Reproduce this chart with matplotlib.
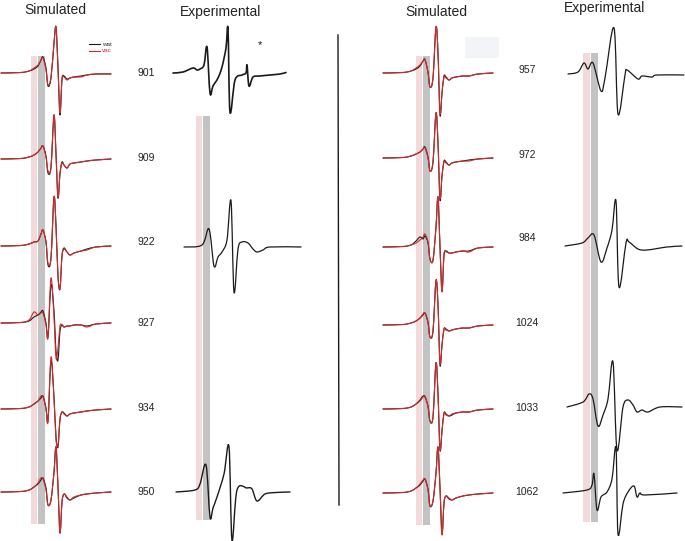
import numpy as np
import matplotlib
matplotlib.use("Agg")
import matplotlib.pyplot as plt
from matplotlib.path import Path
from matplotlib.patches import PathPatch

plt.rcParams['font.family'] = ['Liberation Sans', 'DejaVu Sans']

# ---------------- data ----------------
# common field grid (relative units) for simulated spectra
SIM_X = [0, 20, 28, 33, 37, 40, 42, 45, 47, 50, 53, 55, 57, 59, 61, 63, 66, 69, 73, 80, 86, 95, 110]

# left column simulated spectra (vac = red, wat = black)
SIM_LEFT_LABELS = ["901", "909", "922", "927", "934", "950"]
VAC_901 = [0, 0.5, 2, 5, 8, 13, 15, 3, -12, -4, 30, 46, 5, -40, -6, -4, -7, -5, -4, -4, -2, -1, -1]
WAT_901 = [0, 0.5, 2, 4, 7, 13, 16, 5, -13, -5, 30, 46, 5, -42, -6, -3, -6, -5, -4, -3, -2, -1, -1]
VAC_909 = [0, 0.5, 2, 4, 7, 11, 13, 2, -12, -8, 44, 5, -38, -15, -4, -6, -9, -5, -4, -3, -2, -1, 0]
WAT_909 = [0, 0.5, 2, 4, 7, 11, 13, 3, -14, -8, 44, 5, -39, -14, -3, -6, -9, -5, -4, -3, -2, -1, 0]
VAC_922 = [0, 0.5, 2, 4, 5, 12, 16, 4, -17, -12, 49, 20, -30, -42, -10, -3, -6, -9, -7, -5, -4, -1, 0]
WAT_922 = [0, 0.5, 2, 4, 5, 12, 16, 4, -19, -12, 49, 20, -30, -43, -10, -2, -6, -9, -7, -5, -3, -1, 0]
VAC_927 = [0, 0.5, 3, 11, 8, 10, 10, -2, -14, 45, 5, -35, -25, -3, -2, -4, -3, -3, -2, -2, -4, -1, 0]
WAT_927 = [0, 0.5, 2, 6, 8, 11, 12, 0, -14, 38, 12, -28, -37, -8, -2, -4, -3, -3, -2, -2, -3, -1, 0]
VAC_934 = [0, 0.5, 2, 5, 8, 13, 12, 0, -12, 52, 10, -30, -36, -10, -3, -5, -7, -5, -4, -3, -2, -1, 0]
WAT_934 = [0, 0.5, 2, 5, 8, 11, 13, 1, -12, 48, 12, -28, -38, -10, -3, -4, -7, -5, -4, -3, -2, -1, 0]
VAC_950 = [0, 0.5, 2, 5, 9, 14, 13, 2, -13, -8, 20, 45, 5, -41, -10, -2, -5, -8, -5, -3, -2, -1, 0]
WAT_950 = [0, 0.5, 2, 5, 8, 12, 14, 4, -13, -8, 20, 45, 5, -41, -10, -2, -6, -8, -6, -3, -2, -1, 0]

# right column simulated spectra
SIM_RIGHT_LABELS = ["957", "972", "984", "1024", "1033", "1062"]
VAC_957 = [0, 0.5, 2, 5, 8, 12, 14, 0, -14, -5, 46, 20, -40, -20, -4, -5, -7, -5, -4, -3, -3, -1, 0]
WAT_957 = [0, 0.5, 2, 4, 7, 12, 13, 1, -14, -5, 46, 20, -42, -20, -3, -4, -7, -5, -4, -3, -3, -1, 0]
VAC_972 = [0, 0.5, 2, 4, 6, 9, 10, 0, -13, -4, 45, 15, -40, -18, -4, -5, -7, -5, -4, -3, -3, -1, 0]
WAT_972 = [0, 0.5, 2, 4, 6, 9, 11, 1, -13, -4, 45, 15, -42, -18, -3, -4, -7, -5, -4, -3, -2, -1, 0]
VAC_984 = [0, 0.5, 2, 4, 7, 10, 13, 5, -12, -13, 20, 50, 0, -45, -8, -5, -6, -6, -5, -4, -5, -1, 0]
WAT_984 = [0, 0.5, 2, 6, 10, 8, 11, 4, -12, -13, 20, 50, 0, -44, -8, -4, -6, -6, -5, -4, -4, -1, 0]
VAC_1024 = [0, 0.5, 2, 4, 7, 11, 12, 2, -12, -6, 45, 20, -38, -20, -4, -5, -6, -5, -4, -3, -3, -1, 0]
WAT_1024 = [0, 0.5, 2, 4, 7, 10, 12, 3, -12, -6, 44, 20, -40, -20, -4, -4, -6, -5, -4, -3, -3, -1, 0]
VAC_1033 = [0, 0.5, 2, 5, 8, 12, 13, 2, -12, -8, 46, 15, -40, -22, -4, -6, -7, -5, -4, -3, -3, -1, 0]
WAT_1033 = [0, 0.5, 2, 5, 9, 13, 12, 3, -12, -8, 46, 15, -41, -22, -4, -5, -7, -6, -4, -3, -3, -1, 0]
VAC_1062 = [0, 0.5, 2, 5, 9, 13, 14, 3, -13, -8, 20, 46, 5, -42, -10, -3, -5, -7, -5, -3, -2, -1, 0]
WAT_1062 = [0, 0.5, 2, 5, 8, 12, 14, 4, -13, -8, 20, 46, 5, -41, -10, -3, -6, -7, -5, -3, -2, -1, 0]

# experimental spectra (field, amplitude)
EXP_901_X = [0, 10, 20, 24, 27, 31, 34, 37, 40, 45, 49, 53, 55, 57, 62, 69, 73, 74, 76, 80, 87, 97, 107, 113]
EXP_901_Y = [0, 1, 5, 3, 4, 8, 26, -20, -13, -5, 6, 25, 44, -39, -7, -2, 0, 8, -13, -4, -3, -2, -1, 0.5]
EXP_922_X = [0, 18, 25, 30, 34, 38, 43, 47, 50, 54, 58, 64, 69, 73, 79, 86, 117]
EXP_922_Y = [0, 2, 18, -19, -10, -5, 7, 46, -45, -2, 5, 4, -2, -5, -3, 0, 0]
EXP_950_X = [0, 19, 24, 30, 34, 37, 41, 48, 53, 56, 61, 71, 76, 81, 89, 100, 114]
EXP_950_Y = [0, 2, 8, 27, -25, -16, -5, 18, 45, -48, 2, 4, 3, -9, -2, -0.5, 0]
EXP_957_X = [0, 10, 16, 20, 25, 33, 37, 46, 50, 57, 59, 70, 74, 84, 89, 116]
EXP_957_Y = [0, 2, 11, 5, 11, -17, -4, 46, -40, -1, 4, -5, -2, -3, -1, -1]
EXP_984_X = [0, 17, 23, 29, 36, 42, 47, 51, 54, 61, 64, 73, 82, 102, 117]
EXP_984_Y = [0, 3, 8, 11, -16, -2, 16, 45, -41, 3, 4, -3, -4, -1, 0]
EXP_1033_X = [0, 16, 22, 26, 31, 36, 41, 46, 50, 56, 61, 66, 70, 75, 81, 93, 115]
EXP_1033_Y = [0, 5, 13, 8, -19, -8, 8, 45, -43, 0, 7, 2, -5, -3, -5, 0, 0]
EXP_1062_X = [0, 24, 29, 31, 34, 38, 44, 49, 53, 55, 60, 65, 71, 74, 77, 82, 114]
EXP_1062_Y = [0, 3, 8, 19, -17, -4, 1, 14, 45, -41, -11, 1, 7, -4, 0, -2, 0]

TITLES = ["Simulated", "Experimental", "Simulated", "Experimental"]
LEGEND_LABELS = ["wat", "vac"]

# ---------------- layout / style ----------------
RED = "#d42a2a"
BLACK = "#1a1a1a"
PINK = "#f2dada"
GRAY = "#c3c3c3"

fig = plt.figure(figsize=(6.85, 5.41), dpi=100)
ax = fig.add_axes([0, 0, 1, 1])
ax.set_xlim(0, 685)
ax.set_ylim(541, 0)
ax.axis("off")


def smooth_trace(ax, xs, ys, color, lw, zorder):
    """Draw a smooth curve through the given points (Catmull-Rom as Bezier path)."""
    P = np.column_stack([xs, ys]).astype(float)
    n = len(P)
    verts = [P[0]]
    codes = [Path.MOVETO]
    for i in range(n - 1):
        p0 = P[i - 1] if i > 0 else P[i]
        p1 = P[i]
        p2 = P[i + 1]
        p3 = P[i + 2] if i + 2 < n else P[i + 1]
        c1 = p1 + (p2 - p0) / 6.0
        c2 = p2 - (p3 - p1) / 6.0
        verts += [c1, c2, p2]
        codes += [Path.CURVE4] * 3
    ax.add_patch(PathPatch(Path(verts, codes), fill=False, edgecolor=color,
                           lw=lw, zorder=zorder, capstyle="round", joinstyle="round"))


# shaded field bands
bands = [
    (31, 37, 38, 45, 56, 524),
    (196, 202, 203, 210, 116, 520),
    (416, 422, 423, 430, 56, 525),
    (583, 590, 591, 598, 53, 522),
]
for p0, p1, g0, g1, yt, yb in bands:
    ax.fill_between([p0, p1], yt, yb, color=PINK, lw=0, zorder=0)
    ax.fill_between([g0, g1], yt, yb, color=GRAY, lw=0, zorder=0)

# faint box near top-right simulated column
ax.fill_between([465, 499], 37, 58, color="#f3f4f8", lw=0, zorder=0)

left_vac = [VAC_901, VAC_909, VAC_922, VAC_927, VAC_934, VAC_950]
left_wat = [WAT_901, WAT_909, WAT_922, WAT_927, WAT_934, WAT_950]
right_vac = [VAC_957, VAC_972, VAC_984, VAC_1024, VAC_1033, VAC_1062]
right_wat = [WAT_957, WAT_972, WAT_984, WAT_1024, WAT_1033, WAT_1062]
left_base = [73, 159, 246, 323, 409, 492]
right_base = [73, 158, 247, 325, 409, 493]
left_lab_y = [73, 158, 242, 323, 408, 492]
right_lab_y = [70, 155, 238, 323, 408, 492]

sx = np.array(SIM_X, dtype=float)
for vac, wat, b in zip(left_vac, left_wat, left_base):
    smooth_trace(ax, 1 + sx, b - np.array(wat), BLACK, 0.8, 2)
    smooth_trace(ax, 1 + sx, b - np.array(vac), RED, 0.8, 3)
for vac, wat, b in zip(right_vac, right_wat, right_base):
    smooth_trace(ax, 383 + sx, b - np.array(wat), BLACK, 0.8, 2)
    smooth_trace(ax, 383 + sx, b - np.array(vac), RED, 0.8, 3)

for lab, y in zip(SIM_LEFT_LABELS, left_lab_y):
    ax.text(146, y, lab, ha="center", va="center", fontsize=7.5, color="#222")
for lab, y in zip(SIM_RIGHT_LABELS, right_lab_y):
    ax.text(527, y, lab, ha="center", va="center", fontsize=7.5, color="#222")

exps = [
    (EXP_901_X, EXP_901_Y, 173, 73, 1.2),
    (EXP_922_X, EXP_922_Y, 184, 247, 0.9),
    (EXP_950_X, EXP_950_Y, 176, 492, 1.0),
    (EXP_957_X, EXP_957_Y, 568, 74, 0.9),
    (EXP_984_X, EXP_984_Y, 565, 246, 0.9),
    (EXP_1033_X, EXP_1033_Y, 567, 407, 0.9),
    (EXP_1062_X, EXP_1062_Y, 563, 493, 0.9),
]
for xs, ys, x0, b, lw in exps:
    smooth_trace(ax, x0 + np.array(xs), b - np.array(ys), BLACK, lw, 2)

ax.text(260, 45, "*", ha="center", va="center", fontsize=8, color=BLACK)

# divider line
ax.plot([338, 339], [35, 505], color=BLACK, lw=1.0)

# titles
for t, x, y in zip(TITLES, [55, 221, 436, 605], [10, 12, 12, 8]):
    ax.text(x, y, t, ha="center", va="center", fontsize=10, color="#222")

# legend
ax.plot([89, 100], [44, 44], color=BLACK, lw=0.8)
ax.plot([89, 100], [51, 51], color=RED, lw=0.8)
ax.text(102, 44, LEGEND_LABELS[0], fontsize=4.5, va="center", ha="left", color="#333")
ax.text(102, 51, LEGEND_LABELS[1], fontsize=4.5, va="center", ha="left", color=RED)

fig.savefig("out.png", dpi=100)
